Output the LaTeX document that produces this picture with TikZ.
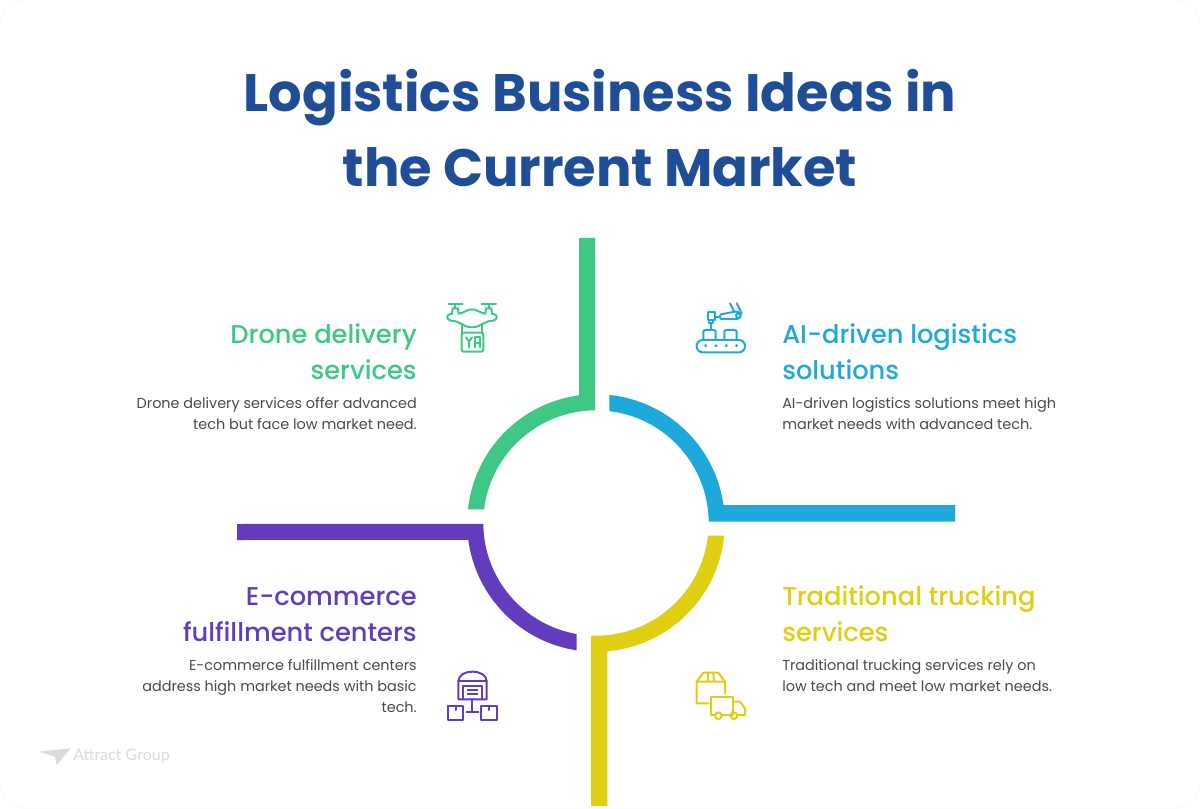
\documentclass[tikz,border=0pt]{standalone}
\usepackage{fontspec}
\setmainfont{Poppins}
\newfontfamily\titlef{Poppins}[UprightFont=* Bold]
\newfontfamily\headf{Poppins}[UprightFont=* Medium]
\newfontfamily\logof{Lato}
\definecolor{titleblue}{HTML}{1F4E96}
\definecolor{cgreen}{HTML}{3FC885}
\definecolor{cblue}{HTML}{1FA9DA}
\definecolor{cyellow}{HTML}{E0CE12}
\definecolor{cpurple}{HTML}{633BBD}
\definecolor{bodyc}{HTML}{4A4A4A}
\tikzset{
  titletext/.style={font=\titlef\fontsize{39.5}{56}\selectfont,text=titleblue,align=center,inner sep=0pt},
  headr/.style={font=\headf\fontsize{19.3}{27}\selectfont,align=right,anchor=north east,inner sep=0pt},
  headl/.style={font=\headf\fontsize{19.3}{27}\selectfont,align=left,anchor=north west,inner sep=0pt},
  bodyr/.style={font=\fontsize{10.8}{15.7}\selectfont,text=bodyc,align=right,anchor=north east,inner sep=0pt},
  bodyl/.style={font=\fontsize{10.8}{15.7}\selectfont,text=bodyc,align=left,anchor=north west,inner sep=0pt},
  ico/.style={line width=1.5pt,line cap=round,line join=round,fill=none},
}
\begin{document}
\begin{tikzpicture}[x=0.75pt,y=0.75pt]
\useasboundingbox (0,0) rectangle (1200,808);
\fill[white] (0,0) rectangle (1200,808);
\draw[black!3,line width=0.5pt,rounded corners=18pt] (0,0) rectangle (1200,808);
% title
\node[titletext] (title) at (600,680) {Logistics Business Ideas in\\the Current Market};
% ring parts: centre (596,285), radii 112.7 and 128.8 px
\coordinate (c) at (596,285);
\fill[cgreen] (579,570) -- ([shift={(97.58:128.8)}]c) arc[start angle=97.58,end angle=173.9,radius=96.6pt] -- ([shift={(173:112.7)}]c) arc[start angle=173,end angle=90.5,radius=84.525pt] -- (595,570) -- cycle;
\fill[cblue] ([shift={(84.07:128.8)}]c) arc[start angle=84.07,end angle=8.03,radius=96.6pt] -- (955,303) -- (955,286.3) -- ([shift={(0.66:112.7)}]c) arc[start angle=0.66,end angle=83.2,radius=84.525pt] -- cycle;
\fill[cyellow] ([shift={(-5.66:128.8)}]c) arc[start angle=-5.66,end angle=-84.97,radius=96.6pt] -- (607.3,2) -- (591,2) -- ([shift={(-92.5:112.7)}]c) arc[start angle=-92.5,end angle=-6.47,radius=84.525pt] -- cycle;
\fill[cpurple] (237,284) -- ([shift={(180.5:112.7)}]c) arc[start angle=180.5,end angle=260.14,radius=84.525pt] -- ([shift={(261.38:128.8)}]c) arc[start angle=261.38,end angle=187.58,radius=96.6pt] -- (237,268) -- cycle;
% texts
\node[headr,text=cgreen] (h1) at (417,485) {Drone delivery\\services};
\node[bodyr] (b1) at (417,411) {Drone delivery services offer advanced\\tech but face low market need.};
\node[headl,text=cblue] (h2) at (782,485) {AI-driven logistics\\solutions};
\node[bodyl] (b2) at (782,411) {AI-driven logistics solutions meet high\\market needs with advanced tech.};
\node[headr,text=cpurple] (h3) at (417,221) {E-commerce\\fulfillment centers};
\node[bodyr] (b3) at (417,149) {E-commerce fulfillment centers\\address high market needs with basic\\tech.};
\node[headl,text=cyellow] (h4) at (782,223) {Traditional trucking\\services};
\node[bodyl] (b4) at (782,149) {Traditional trucking services rely on\\low tech and meet low market needs.};
% drone icon
\begin{scope}[shift={(430,518)},x=0.25pt,y=-0.25pt,ico,draw=cgreen]
\draw (55,42) -- (98,42) (155,42) -- (198,42) (76,42) -- (76,55) (176,42) -- (176,55);
\draw (66,72) -- (68,55) -- (84,55) -- (86,71);
\draw (166,71) -- (168,55) -- (184,55) -- (186,72);
\draw (86,71) .. controls (105,68) and (110,58) .. (126,58) .. controls (142,58) and (147,68) .. (166,71);
\draw (66,72) -- (60,72) .. controls (48,75) and (50,90) .. (62,92) .. controls (90,92) and (100,112) .. (126,112) .. controls (152,112) and (162,92) .. (190,92) .. controls (202,90) and (204,75) .. (192,72) -- (186,72);
\draw (95,100) -- (95,128) (157,100) -- (157,128);
\draw[rounded corners=1.5pt] (95,128) rectangle (160,185);
\draw (108,142) -- (117,155) -- (126,142) (117,155) -- (117,172);
\draw (135,172) -- (135,142) -- (150,142) -- (150,172) (135,158) -- (150,158);
\end{scope}
% robot arm and conveyor icon
\begin{scope}[shift={(685,513)},x=0.25pt,y=-0.25pt,ico,draw=cblue]
\draw[rounded corners=4.5pt] (35,135) rectangle (180,172);
\fill[cblue] (62,152) circle (1.2pt) (93,152) circle (1.2pt) (124,152) circle (1.2pt) (155,152) circle (1.2pt);
\draw[rounded corners=1.5pt] (55,135) -- (55,105) -- (92,105) -- (92,135);
\draw[rounded corners=1.5pt] (118,135) -- (118,105) -- (155,105) -- (155,135);
\draw (78,105) -- (78,85);
\draw (68,52) rectangle (90,75) (72,75) -- (72,85) -- (85,85) -- (85,75);
\draw (90,65) -- (105,65);
\draw (108,58) -- (150,50) .. controls (172,48) and (172,74) .. (150,72) -- (108,72) .. controls (102,70) and (102,60) .. (108,58);
\draw (160,62) circle (1.7pt);
\draw (135,25) -- (148,50) (155,25) -- (170,55);
\end{scope}
% warehouse icon
\begin{scope}[shift={(435,148)},x=0.25pt,y=-0.25pt,ico,draw=cpurple]
\draw (70,118) -- (70,65) .. controls (70,45) and (90,35) .. (112,35) .. controls (135,35) and (155,45) .. (155,65) -- (155,118) -- cycle;
\draw (70,62) -- (155,62);
\draw (85,118) -- (85,78) -- (140,78) -- (140,118);
\draw (98,90) -- (127,90) (98,103) -- (127,103);
\draw (112,118) -- (112,155) (95,155) -- (130,155);
\draw (40,137) rectangle (85,180) (138,137) rectangle (185,180);
\draw (62,137) -- (62,150) (162,137) -- (162,150);
\end{scope}
% truck icon
\begin{scope}[shift={(685,148)},x=0.25pt,y=-0.25pt,ico,draw=cyellow]
\draw (70,130) -- (35,130) -- (35,65) -- (55,38) -- (100,38) -- (120,65) -- (120,100);
\draw (35,65) -- (120,65) (70,38) -- (68,65) (85,38) -- (87,65);
\draw (90,165) -- (78,165) -- (78,112) -- (145,112) -- (145,165) (112,165) -- (135,165);
\draw (145,125) -- (165,125) -- (180,145) -- (180,165) -- (158,165);
\draw (100,167) circle (2.5pt) (147,167) circle (2.5pt);
\end{scope}
% logo
\fill[black!14] (39.3,56.3) -- (70.7,59.7) -- (56.7,43) -- (55,51.3) -- cycle;
\node[font=\logof\fontsize{12}{14}\selectfont,text=black!14,anchor=west,inner sep=0pt] (logo) at (73,52) {Attract Group};
\end{tikzpicture}
\end{document}
